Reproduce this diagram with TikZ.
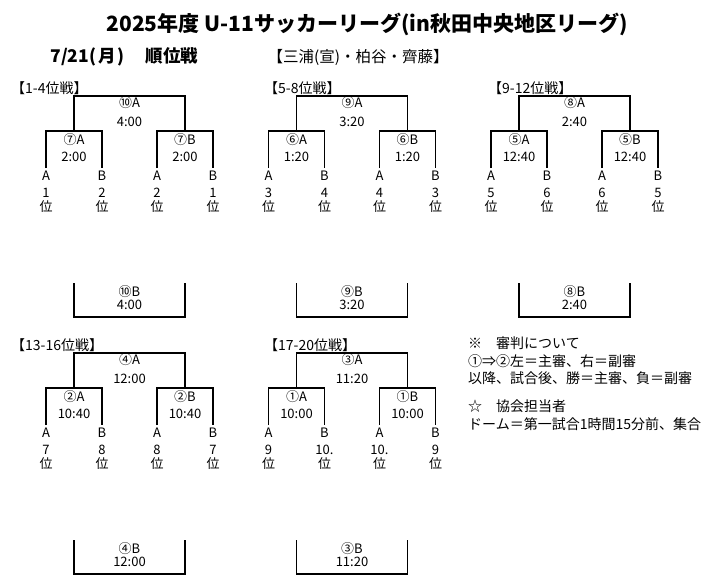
\documentclass[tikz,border=0pt]{standalone}
\usepackage{fontspec}
\setmainfont{Noto Sans CJK JP}
\usetikzlibrary{positioning, calc}

\tikzset{
  bar/.style={draw, line width=1.2pt},
  lbl/.style={font=\fontsize{13}{14}\selectfont, inner sep=0pt},
  leaf/.style={lbl, inner ysep=3pt},
  head/.style={font=\fontsize{14}{16}\selectfont, inner sep=0pt, anchor=west},
  note/.style={font=\fontsize{14}{17.5}\selectfont, inner sep=0pt, align=left, anchor=north west}
}

\begin{document}
\begin{tikzpicture}[x=1pt, y=-1pt]
\useasboundingbox (0,0) rectangle (723,588);

% title lines
\node[font=\bfseries\fontsize{21}{24}\selectfont] (title) at (367,24)
  {2025年度 U-11サッカーリーグ(in秋田中央地区リーグ)};
\node[font=\bfseries\fontsize{17.5}{20}\selectfont, anchor=west] (day) at (47,57)
  {7/21(\kern2pt 月\kern2pt)\hspace{1.2em}順位戦};
\node[font=\fontsize{15.5}{18}\selectfont, anchor=west] (refs) at (264,57)
  {【三浦(宣)・柏谷・齊藤】};

% one bracket per ranking round
\foreach \n/\dx/\dy/\hx/\hd/\fm/\tf/\sm/\ts/\ra/\rb/\rc/\rd in {
  a/0/0/11/1-4/⑩/4:00/⑦/2:00/1/2/2/1,
  b/222.5/0/264/5-8/⑨/3:20/⑥/1:20/3/4/4/3,
  c/445/0/488/9-12/⑧/2:40/⑤/12:40/5/6/6/5,
  d/0/257/11/13-16/④/12:00/②/10:40/7/8/8/7,
  e/222.5/257/264/17-20/③/11:20/①/10:00/9/10./10./9}{
  \node[head] (h\n) at (\hx,88+\dy) {【\hd 位戦】};
  \begin{scope}[shift={(\dx pt,-\dy pt)}]
    \coordinate (f\n) at (129.5,96);
    \coordinate (s1\n) at (74,131);
    \coordinate (s2\n) at (185,131);
    \node[leaf] (x1\n) at (46,176) {A};
    \node[leaf] (x2\n) at (102,176) {B};
    \node[leaf] (x3\n) at (157,176) {A};
    \node[leaf] (x4\n) at (213,176) {B};
    \node[lbl, align=center] (r1\n) at (46,200) {\ra\\位};
    \node[lbl, align=center] (r2\n) at (102,200) {\rb\\位};
    \node[lbl, align=center] (r3\n) at (157,200) {\rc\\位};
    \node[lbl, align=center] (r4\n) at (213,200) {\rd\\位};
    \node[lbl] (fa\n) at (129.5,103) {\fm A};
    \node[lbl] (ft\n) at (129.5,122) {\tf};
    \node[lbl] (sa\n) at (74,140) {\sm A};
    \node[lbl] (ta\n) at (74,157) {\ts};
    \node[lbl] (sb\n) at (185,140) {\sm B};
    \node[lbl] (tb\n) at (185,157) {\ts};
    \draw[bar] (s1\n) |- (f\n) -| (s2\n);
    \draw[bar] (x1\n.north) |- (s1\n) -| (x2\n.north);
    \draw[bar] (x3\n.north) |- (s2\n) -| (x4\n.north);
    % losers' side
    \coordinate (b1\n) at (74,283);
    \coordinate (b2\n) at (185,283);
    \coordinate (bb\n) at (129.5,317);
    \draw[bar] (b1\n) |- (bb\n) -| (b2\n);
    \node[lbl] (fb\n) at (129.5,292) {\fm B};
    \node[lbl] (bt\n) at (129.5,305) {\tf};
  \end{scope}
}

% notes
\node[note] (note1) at (468,337)
  {※　審判について\\①⇒②左＝主審、右＝副審\\以降、試合後、勝＝主審、負＝副審};
\node[note] (note2) at (468,400)
  {☆　協会担当者\\ドーム＝第一試合1時間15分前、集合};
\end{tikzpicture}
\end{document}
